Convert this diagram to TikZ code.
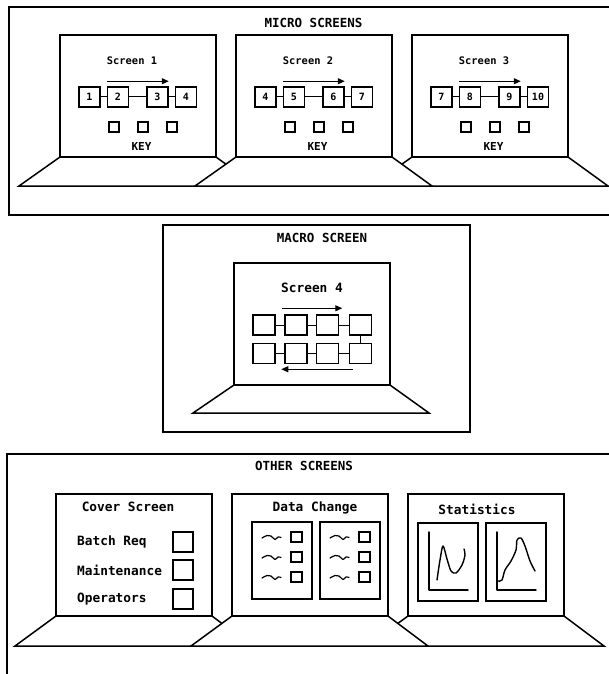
\documentclass[tikz,border=0pt]{standalone}
\usepackage{fontspec}
\setmonofont{DejaVu Sans Mono}
\usetikzlibrary{calc,arrows.meta}
\newcommand\myfs[1]{\fontsize{#1}{#1}\selectfont\ttfamily\bfseries}
\begin{document}
\begin{tikzpicture}[x=1pt,y=-1pt,
  panelframe/.style={line width=2.2pt,line join=miter},
  monitor/.style={draw,line width=1.5pt,fill=white,minimum width=156pt,minimum height=122pt,anchor=north west,inner sep=0pt,outer sep=0pt},
  standbase/.style={draw,line width=1.5pt,fill=white,line join=miter},
  screenfoot/.style={line width=2.8pt},
  title/.style={font=\myfs{12.5},inner sep=0pt},
  smalllbl/.style={font=\myfs{10.4},inner sep=0pt},
  biglbl/.style={font=\myfs{12.8},inner sep=0pt},
  keylbl/.style={font=\myfs{11},inner sep=0pt},
  stepbox/.style={draw,line width=1.5pt,minimum width=21pt,minimum height=20pt,inner sep=0pt,font=\myfs{10}},
  mbox/.style={draw,line width=1.5pt,minimum width=22pt,minimum height=20pt,inner sep=0pt},
  keybox/.style={draw,line width=1.4pt,minimum width=10pt,minimum height=10pt,inner sep=0pt},
  chk/.style={draw,line width=1.5pt,minimum width=20pt,minimum height=20pt,inner sep=0pt},
  dchk/.style={draw,line width=1.5pt,minimum width=11pt,minimum height=10pt,inner sep=0pt},
  pane/.style={draw,line width=1.5pt,anchor=north west,inner sep=0pt,outer sep=0pt},
  conn/.style={line width=1pt},
  flow/.style={line width=1.2pt,-{Triangle[length=7pt,width=6pt]}},
  squig/.style={line width=1.2pt,line cap=round,line join=round},
  curve/.style={line width=1.4pt,line cap=round,line join=round}
]
\useasboundingbox (0,0) rectangle (609,674);

% ===== MICRO SCREENS =====
\draw[panelframe] (609,7) -- (9,7) -- (9,215) -- (609,215);
\node[title] (micro) at (313.5,23) {MICRO SCREENS};

\foreach \L/\a/\b/\c/\d/\n [count=\i] in {60/1/2/3/4/s1,236/4/5/6/7/s2,412/7/8/9/10/s3}{
  \node[monitor] (\n) at (\L,35) {};
  \node[smalllbl] (\n lbl) at (\L+72,61) {Screen \i};
  \node[stepbox] (\n a) at (\L+29.5,97) {\a};
  \node[stepbox] (\n b) at (\L+58,97) {\b};
  \node[stepbox] (\n c) at (\L+97.5,97) {\c};
  \node[stepbox] (\n d) at (\L+126,97) {\d};
  \draw[conn] (\n a) -- (\n b);
  \draw[conn] (\n b) -- (\n c);
  \draw[conn] (\n c) -- (\n d);
  \coordinate (\n as) at ($(\n b.north west)+(0,-5)$);
  \coordinate (\n ae) at ($(\n c.north east)+(0,-5)$);
  \draw[flow] (\n as) -- (\n ae);
  \node[keybox] (\n k1) at (\L+54,127) {};
  \node[keybox] (\n k2) at (\L+83,127) {};
  \node[keybox] (\n k3) at (\L+112,127) {};
  \node[keylbl] (\n key) at (\L+81.5,146) {KEY};
}
\foreach \n in {s1,s3,s2}{
  \draw[standbase] (\n.south west) -- ++(-41,29) -- ($(\n.south east)+(40,29)$) -- (\n.south east) -- cycle;
}
\foreach \n in {s1,s2,s3}{
  \draw[screenfoot] (\n.south west) -- (\n.south east);
}

% ===== MACRO SCREEN =====
\draw[panelframe] (163,225) rectangle (470,432);
\node[title] (macro) at (322,238) {MACRO SCREEN};
\node[monitor] (s4) at (234,263) {};
\node[biglbl] (s4lbl) at (312,288) {Screen 4};
\foreach \x [count=\j] in {30,62,93.5,126.5}{
  \node[mbox] (m\j) at (234+\x,325) {};
  \node[mbox] (n\j) at (234+\x,353.5) {};
}
\draw[conn] (m1) -- (m2);
\draw[conn] (m2) -- (m3);
\draw[conn] (m3) -- (m4);
\draw[conn] (m4) -- (n4);
\draw[conn] (n4) -- (n3);
\draw[conn] (n3) -- (n2);
\draw[conn] (n2) -- (n1);
\coordinate (tas) at ($(m2.north west)+(-2,-6)$);
\coordinate (tae) at ($(m3.north east)+(3,-6)$);
\draw[flow] (tas) -- (tae);
\coordinate (bas) at ($(n4.south west)+(4,5)$);
\coordinate (bae) at ($(n2.south west)+(-3,5)$);
\draw[flow] (bas) -- (bae);
\draw[standbase] (s4.south west) -- ++(-41,28) -- ($(s4.south east)+(39,28)$) -- (s4.south east) -- cycle;
\draw[screenfoot] (s4.south west) -- (s4.south east);

% ===== OTHER SCREENS =====
\draw[panelframe] (609,454) -- (7,454) -- (7,674);
\node[title] (other) at (304,466) {OTHER SCREENS};
\node[monitor] (c1) at (56,494) {};
\node[monitor] (c2) at (232,494) {};
\node[monitor] (c3) at (408,494) {};

% Cover screen
\node[biglbl] (c1lbl) at (128,507) {Cover Screen};
\node[biglbl,anchor=west] (batch) at (77,542) {Batch Req};
\node[biglbl,anchor=west] (maint) at (77,570) {Maintenance};
\node[biglbl,anchor=west] (oper) at (77,599) {Operators};
\node[chk] (cb1) at (183,542) {};
\node[chk] (cb2) at (183,570) {};
\node[chk] (cb3) at (183,599) {};

% Data change
\node[biglbl] (c2lbl) at (315,508) {Data Change};
\node[pane,minimum width=60pt,minimum height=77pt] (dp1) at (252,522) {};
\node[pane,minimum width=60pt,minimum height=77pt] (dp2) at (320,522) {};
\foreach \p in {dp1,dp2}{
  \foreach \r in {15,35,55}{
    \draw[squig,shift={($(\p.north west)+(10,\r)$)}] plot[smooth,tension=0.6] coordinates {(0,1) (5,-1.5) (9,-1) (13,2.5) (16,0) (19,0.5)};
    \node[dchk] (\p q\r) at ($(\p.north west)+(44.5,\r)$) {};
  }
}

% Statistics
\node[biglbl] (c3lbl) at (477,509) {Statistics};
\node[pane,minimum width=60pt,minimum height=78pt] (sp1) at (418,523) {};
\node[pane,minimum width=60pt,minimum height=78pt] (sp2) at (486,523) {};
\foreach \p in {sp1,sp2}{
  \draw[curve] ($(\p.north west)+(11,9)$) -- ($(\p.north west)+(11,67)$) -- ($(\p.north west)+(50,67)$);
}
\draw[curve] plot[smooth,tension=0.5] coordinates {(437,580) (440,560) (443,546) (447,559) (451,571) (456,573) (462,565) (465,555) (464,549)};
\draw[curve] plot[smooth,tension=0.5] coordinates {(498,581) (502,580) (505,570) (511,561) (516,550) (517,540) (521,538) (525,546) (530,561) (535,571)};

\foreach \n in {c1,c3,c2}{
  \draw[standbase] (\n.south west) -- ++(-41,30) -- ($(\n.south east)+(40,30)$) -- (\n.south east) -- cycle;
}
\foreach \n in {c1,c2,c3}{
  \draw[screenfoot] (\n.south west) -- (\n.south east);
}
\end{tikzpicture}
\end{document}
